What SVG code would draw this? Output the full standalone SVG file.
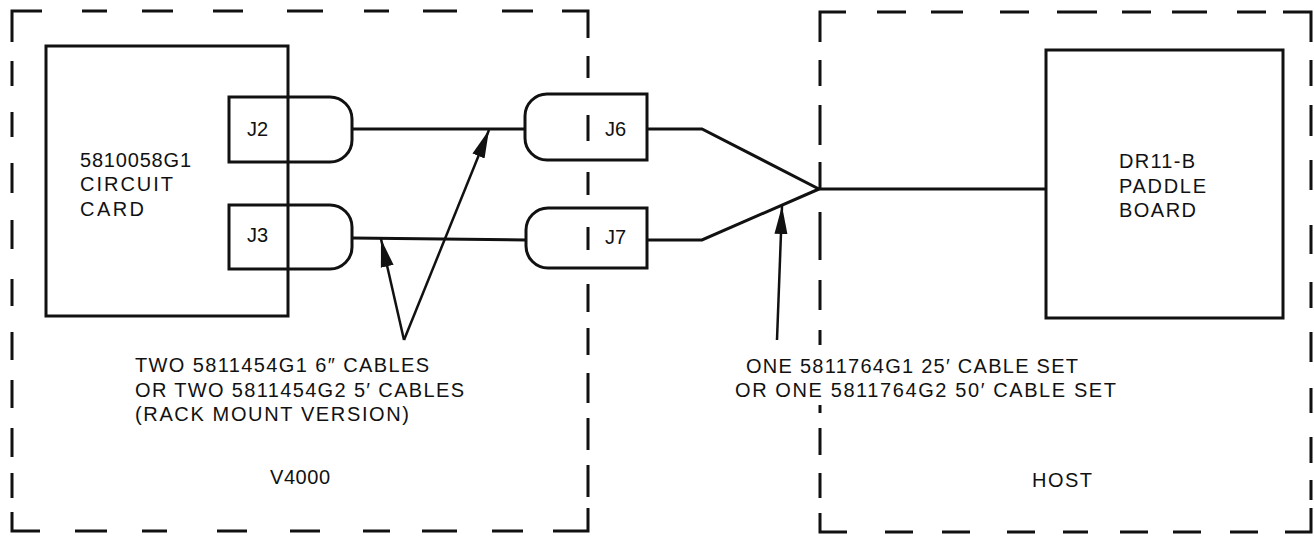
<svg xmlns="http://www.w3.org/2000/svg" width="1314" height="536" viewBox="0 0 1314 536">
<style>
.bd{fill:none;stroke:#111;stroke-width:3;stroke-linecap:butt;stroke-linejoin:miter}
.box{fill:none;stroke:#111;stroke-width:3}
.cn{fill:#fff;fill-opacity:0;stroke:#111;stroke-width:3}
.ln{fill:none;stroke:#111;stroke-width:3;stroke-linejoin:miter}
.ar{fill:none;stroke:#111;stroke-width:2.5}
text{font-family:"Liberation Sans",Arial,sans-serif;font-size:20px;fill:#111}
</style>
<defs>
<marker id="ah" markerUnits="userSpaceOnUse" markerWidth="30" markerHeight="16" refX="28" refY="0" viewBox="0 -8 30 16" orient="auto">
<path d="M0,-6.5 L28,0 L0,6.5 Z" fill="#111"/>
</marker>
</defs>
<rect width="1314" height="536" fill="#fff"/>

<g id="v4000">
<path class="bd" d="M12,42 V11 H42 M82,11 H107 M142,11 H173 M213,11 H243 M287,11 H323 M364,11 H389 M423,11 H457 M502,11 H533 M562,11 H588 V38
M12,61 V86 M12,112 V137 M12,163 V193 M12,220 V249 M12,279 V306 M12,332 V360 M12,380 V408 M12,428 V457 M12,473 V498 M12,512 V531 H40
M75,531 H107 M142,531 H167 M217,531 H247 M290,531 H320 M363,531 H390 M422,531 H457 M492,531 H523 M553,531 H588 V508
M588,56 V78 M588,115 V141 M588,172 V195 M588,227 V250 M588,284 V312 M588,328 V355 M588,373 V403 M588,418 V450 M588,465 V497"/>
<text x="270" y="484" textLength="60">V4000</text>
</g>

<g id="host">
<path class="bd" d="M820,42 V12 H846 M877,12 H906 M931,12 H963 M1000,12 H1029 M1057,12 H1097 M1122,12 H1151 M1172,12 H1207 M1237,12 H1266 M1283,12 H1311 V42
M820,60 V86 M820,105 V145 M820,162 V189 M820,212 V260 M820,280 V310 M820,330 V345 M820,405 V413 M820,428 V455 M820,473 V498 M820,513 V532 H847
M885,532 H913 M942,532 H970 M1007,532 H1035 M1063,532 H1088 M1120,532 H1148 M1173,532 H1201 M1230,532 H1258 M1285,532 H1311 V508
M1311,60 V86 M1311,105 V136 M1311,160 V190 M1311,225 V254 M1311,282 V308 M1311,332 V362 M1311,388 V413 M1311,437 V463 M1311,480 V500"/>
<text x="1032" y="487" textLength="60">HOST</text>
</g>

<g id="circuit-card">
<rect class="box" x="46" y="46" width="242" height="270"/>
<text x="80" y="167" textLength="111">5810058G1</text>
<text x="80" y="191" textLength="93">CIRCUIT</text>
<text x="80" y="216" textLength="64">CARD</text>
</g>

<g id="j2">
<path class="cn" d="M229,97 H330 A22,22 0 0 1 352,119 V140 A22,22 0 0 1 330,162 H229 Z"/>
<text x="247" y="136">J2</text>
</g>
<g id="j3">
<path class="cn" d="M229,205 H330 A22,22 0 0 1 352,227 V247 A22,22 0 0 1 330,269 H229 Z"/>
<text x="247" y="242">J3</text>
</g>
<g id="j6">
<path class="cn" d="M647,94 V160 H547 A22,22 0 0 1 525,138 V116 A22,22 0 0 1 547,94 Z"/>
<text x="605" y="136">J6</text>
</g>
<g id="j7">
<path class="cn" d="M647,208 V268 H548 A22,22 0 0 1 526,246 V230 A22,22 0 0 1 548,208 Z"/>
<text x="605" y="244">J7</text>
</g>

<g id="paddle-board">
<rect class="box" x="1046" y="50" width="237" height="268"/>
<text x="1119" y="168" textLength="76">DR11-B</text>
<text x="1119" y="193" textLength="87">PADDLE</text>
<text x="1119" y="217" textLength="77">BOARD</text>
</g>

<g id="connectors">
<path class="ln" d="M352,129 H525"/>
<path class="ln" d="M352,238 L526,240"/>
<path class="ln" d="M647,129 H702 L819,189 H1046"/>
<path class="ln" d="M647,240 H702 L819,189"/>
<path class="ar" d="M404,340 L381,239" marker-end="url(#ah)"/>
<path class="ar" d="M404,340 L489,130" marker-end="url(#ah)"/>
<path class="ar" d="M777,340 L782,206" marker-end="url(#ah)"/>
</g>

<g id="labels">
<text x="135" y="372" textLength="294">TWO 5811454G1 6″ CABLES</text>
<text x="135" y="397" textLength="329">OR TWO 5811454G2 5′ CABLES</text>
<text x="135" y="421" textLength="274">(RACK MOUNT VERSION)</text>
<text x="746" y="373" textLength="332">ONE 5811764G1 25′ CABLE SET</text>
<text x="735" y="397" textLength="381">OR ONE 5811764G2 50′ CABLE SET</text>
</g>
</svg>
